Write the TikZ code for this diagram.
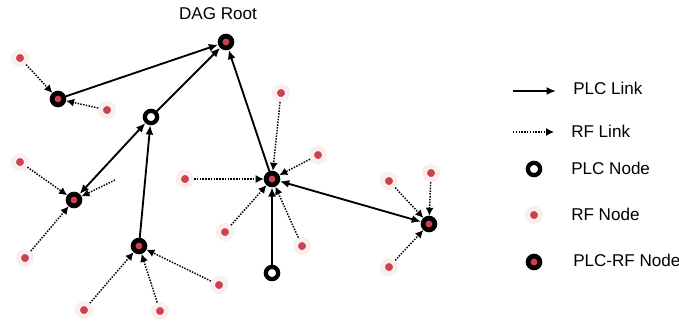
\documentclass[tikz,border=0pt]{standalone}
\usepackage{fontspec}
\setmainfont{Liberation Sans}
\usetikzlibrary{arrows.meta,shadows}
\definecolor{rfred}{RGB}{204,66,78}
\definecolor{rfring}{RGB}{250,238,238}
\begin{document}
\begin{tikzpicture}[x=0.75pt,y=-0.75pt]
\tikzset{rfnode/.style={circle, fill=rfred, draw=rfring, line width=3.8pt, minimum size=9.8pt, inner sep=0pt,
    drop shadow={shadow xshift=0.6pt, shadow yshift=-1.2pt, opacity=0.35, fill=gray}},
  plcnode/.style={circle, fill=white, draw=black, line width=3.2pt, minimum size=9.2pt, inner sep=0pt},
  plcrfnode/.style={circle, fill=rfred, draw=black, line width=3.6pt, minimum size=8.8pt, inner sep=0pt},
  plclink/.style={line width=1.4pt, -{Latex[length=7pt,width=6pt]}},
  rflink/.style={line width=1.1pt, densely dotted, -{Latex[length=6pt,width=6pt]}},
  lbl/.style={anchor=base west, font=\fontsize{12.8}{15}\selectfont, inner sep=0pt}}
\useasboundingbox (0,0) rectangle (679,329);
\node[plcrfnode] (Root) at (226,42) {};
\node[anchor=base, font=\fontsize{12.8}{15}\selectfont, inner sep=0pt] (RootLbl) at (218,19) {DAG Root};
\node[plcrfnode] (A) at (58,99) {};
\node[plcnode] (B) at (151,117) {};
\node[plcrfnode] (C) at (74,200) {};
\node[plcrfnode] (D) at (139,246) {};
\node[plcrfnode] (E) at (272,179) {};
\node[plcnode] (F) at (272,273) {};
\node[plcrfnode] (G) at (429,224) {};
\node[rfnode] (A1) at (20,58) {};
\node[rfnode] (A2) at (107,110) {};
\node[rfnode] (C1) at (20,162) {};
\node[rfnode] (C2) at (25,258) {};
\coordinate (C3) at (115,180);
\node[rfnode] (D1) at (84,310) {};
\node[rfnode] (D2) at (160,311) {};
\node[rfnode] (D3) at (219,285) {};
\node[rfnode] (E1) at (281,93) {};
\node[rfnode] (E2) at (318,155) {};
\node[rfnode] (E3) at (185,179) {};
\node[rfnode] (E4) at (225,232) {};
\node[rfnode] (E5) at (302,246) {};
\node[rfnode] (G1) at (389,181) {};
\node[rfnode] (G2) at (431,173) {};
\node[rfnode] (G3) at (389,267) {};
\draw[plclink] (A) -- (Root);
\draw[plclink] (B) -- (Root);
\draw[plclink] (E) -- (Root);
\draw[plclink, {Latex[length=7pt,width=6pt]}-{Latex[length=7pt,width=6pt]}] (C) -- (B);
\draw[plclink] (D) -- (B);
\draw[plclink] (F) -- (E);
\draw[plclink, {Latex[length=7pt,width=6pt]}-{Latex[length=7pt,width=6pt]}] (E) -- (G);
\draw[rflink] (A1) -- (A);
\draw[rflink] (A2) -- (A);
\draw[rflink] (C1) -- (C);
\draw[rflink] (C2) -- (C);
\draw[rflink] (C3) -- (C);
\draw[rflink] (D1) -- (D);
\draw[rflink] (D2) -- (D);
\draw[rflink] (D3) -- (D);
\draw[rflink] (E1) -- (E);
\draw[rflink] (E2) -- (E);
\draw[rflink] (E3) -- (E);
\draw[rflink] (E4) -- (E);
\draw[rflink] (E5) -- (E);
\draw[rflink] (G1) -- (G);
\draw[rflink] (G2) -- (G);
\draw[rflink] (G3) -- (G);
\coordinate (L1a) at (513,91);
\coordinate (L1b) at (556,91);
\coordinate (L2a) at (513,132);
\coordinate (L2b) at (554,132);
\draw[plclink] (L1a) -- (L1b);
\draw[rflink, line width=0.8pt] (L2a) -- (L2b);
\node[lbl] (PLCLink) at (573,94) {PLC Link};
\node[lbl] (RFLink) at (571,137) {RF Link};
\node[plcnode] (LegPLC) at (534,169) {};
\node[lbl] (PLCNode) at (571,174) {PLC Node};
\node[rfnode] (LegRF) at (534,215) {};
\node[lbl] (RFNode) at (571,220) {RF Node};
\node[plcrfnode] (LegPLCRF) at (534,262) {};
\node[lbl] (PLCRFNode) at (573,266) {PLC-RF Node};
\end{tikzpicture}
\end{document}
